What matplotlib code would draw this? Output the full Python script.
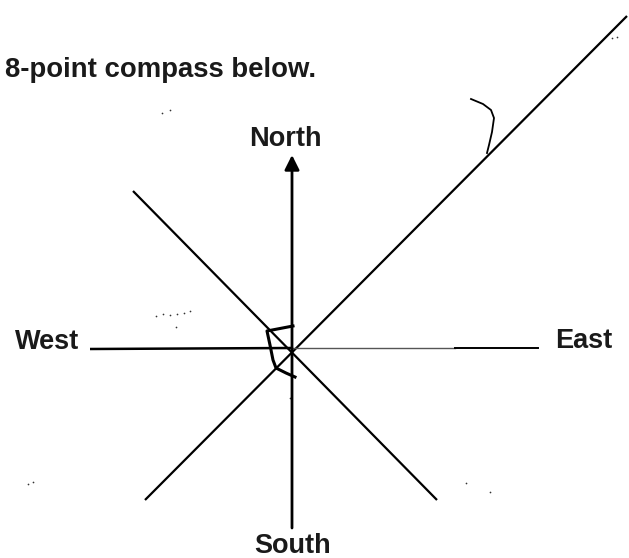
import matplotlib
matplotlib.use("Agg")
import matplotlib.pyplot as plt

# Canvas (pixel coordinates of the scanned worksheet)
WIDTH, HEIGHT = 629, 558
CENTRE = (292, 348)

# Compass lines: start / end points
line_x0 = [90, 133, 145]
line_y0 = [349, 191, 500]
line_x1 = [292, 437, 627]
line_y1 = [348, 500, 16]
line_w = [1.8, 1.6, 1.6]

# East arm (fades from grey to black in the scan)
east_x = [292, 455, 538]
east_y = [348, 348, 348]

# North arrow
arrow_tail = (292, 528)
arrow_tip = (292, 155)

# Labels
labels = ["North", "South", "East", "West"]
label_x = [285, 293, 584, 47]
label_y = [146, 553, 348, 349]

title_text = "8-point compass below."
title_x, title_y = 5, 77

# Pencil marks drawn by the student
tick_x = [471, 483, 491, 494, 492, 489, 487]
tick_y = [99, 104, 110, 118, 132, 145, 153]
angle_x = [293, 267, 270, 273, 276, 286, 295]
angle_y = [326, 331, 345, 360, 368, 373, 377]

# Scanner specks
speck_x = [162, 170, 156, 163, 170, 177, 184, 190, 176, 28, 33, 466, 490, 612, 617, 290]
speck_y = [113, 110, 316, 314, 315, 314, 313, 311, 327, 484, 482, 483, 492, 38, 37, 398]

fig = plt.figure(figsize=(WIDTH / 100, HEIGHT / 100), dpi=100)
ax = fig.add_axes([0, 0, 1, 1])
ax.set_xlim(0, WIDTH)
ax.set_ylim(HEIGHT, 0)
ax.axis("off")

for x0, y0, x1, y1, w in zip(line_x0, line_y0, line_x1, line_y1, line_w):
    ax.plot([x0, x1], [y0, y1], color="black", lw=w, solid_capstyle="butt")

ax.plot(east_x[:2], east_y[:2], color="#555555", lw=1.0)
ax.plot(east_x[1:], east_y[1:], color="black", lw=1.4)

ax.annotate("", xy=arrow_tip, xytext=arrow_tail,
            arrowprops=dict(arrowstyle="-|>", lw=2.0, color="black",
                            mutation_scale=22, shrinkA=0, shrinkB=0))

for txt, x, y in zip(labels, label_x, label_y):
    ax.text(x, y, txt, ha="center", va="baseline", fontsize=19.5,
            fontweight="bold", family="Liberation Sans", color="#1a1a1a")

ax.text(title_x, title_y, title_text, ha="left", va="baseline", fontsize=19.8,
        fontweight="bold", family="Liberation Sans", color="#1a1a1a")

ax.plot(tick_x, tick_y, color="black", lw=1.3)
ax.plot(angle_x, angle_y, color="black", lw=2.2)
ax.scatter(speck_x, speck_y, s=1.5, color="#333333", lw=0)

fig.savefig("out.png", dpi=100, facecolor="white")
